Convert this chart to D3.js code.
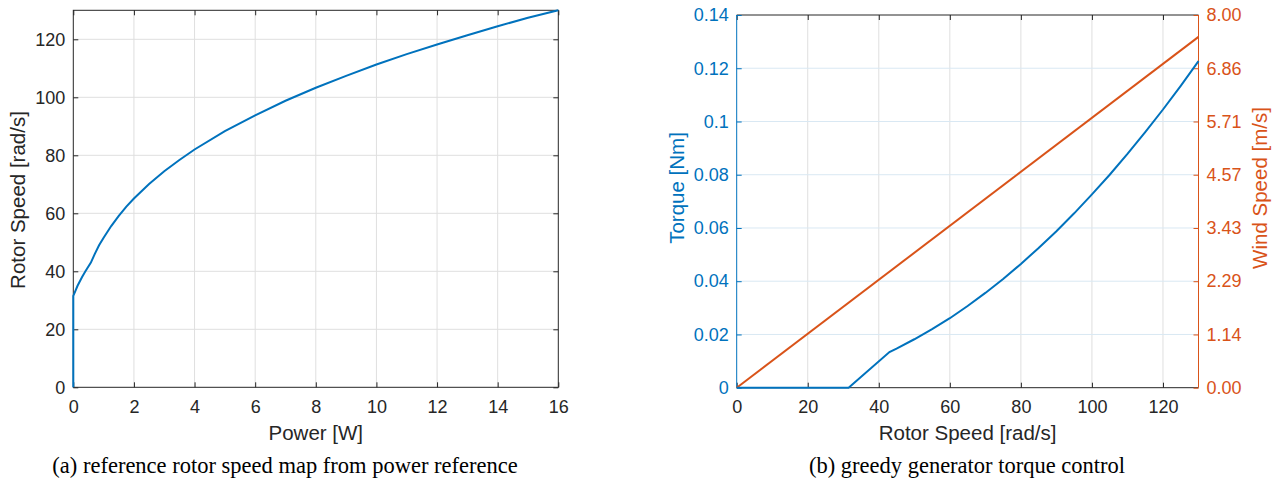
<!DOCTYPE html>
<html>
<head>
<meta charset="utf-8">
<script src="https://cdn.jsdelivr.net/npm/d3@7"></script>
<style>
  body { margin: 0; background: #fff; }
  svg text { font-family: "Liberation Sans", Arial, sans-serif; }
</style>
</head>
<body>
<div id="chart"></div>
<script>
// (a) rotor speed reference vs power
var powerW      = [0, 0, 0.14, 0.29, 0.40, 0.58, 0.71, 0.85, 1, 1.25, 1.5, 1.75, 2, 2.5, 3, 3.5, 4, 5, 6, 7, 8, 9, 10, 11, 12, 13, 14, 15, 16];
var rotorRef    = [0, 31.5, 35, 38, 40, 43, 46, 49, 51.6, 55.6, 59.1, 62.3, 65.1, 70.1, 74.5, 78.4, 82.0, 88.3, 93.8, 98.8, 103.3, 107.4, 111.3, 114.9, 118.2, 121.4, 124.5, 127.4, 130];
var powerTicks  = [0, 2, 4, 6, 8, 10, 12, 14, 16];
var rotorTicksA = [0, 20, 40, 60, 80, 100, 120];

// (b) torque and wind speed vs rotor speed
var rotorB      = [0, 31.5, 43, 45, 50, 55, 60, 65, 70, 75, 80, 85, 90, 95, 100, 105, 110, 115, 120, 125, 130];
var torqueNm    = [0, 0, 0.0134, 0.0147, 0.0182, 0.0220, 0.0261, 0.0307, 0.0356, 0.0408, 0.0465, 0.0525, 0.0588, 0.0655, 0.0726, 0.0800, 0.0878, 0.0960, 0.1045, 0.1134, 0.1227];
var rotorWind   = [0, 130];
var windMs      = [0, 7.53];
var rotorTicksB = [0, 20, 40, 60, 80, 100, 120];
var torqueTicks = [0, 0.02, 0.04, 0.06, 0.08, 0.1, 0.12, 0.14];
var windTicks   = [0, 8/7, 16/7, 24/7, 32/7, 40/7, 48/7, 8];

var blue = "#0072BD", orange = "#D95319", dark = "#262626";
var gridGray = "#dfdfdf", gridBlue = "#d9e8f3";
var W = 1278, H = 487, tickLen = 5;
var tickFont = "18px", labelFont = "20.5px";

var svg = d3.select("#chart").append("svg").attr("width", W).attr("height", H);

function styleAxis(sel, col) {
  sel.select(".domain").remove();
  sel.selectAll("line").style("stroke", col);
  sel.selectAll("text").style("fill", col).style("font-size", tickFont);
}

// ---------- left chart ----------
var xa = d3.scaleLinear().domain([0, 16]).range([73.3, 558.3]);
var ya = d3.scaleLinear().domain([0, 130]).range([387.3, 10.3]);
var ga = svg.append("g");

// grid
ga.selectAll(".vg").data(powerTicks.slice(1, -1)).enter().append("line")
  .attr("x1", d => xa(d)).attr("x2", d => xa(d)).attr("y1", ya(0)).attr("y2", ya(130))
  .style("stroke", gridGray).style("stroke-width", 1);
ga.selectAll(".hg").data(rotorTicksA.slice(1)).enter().append("line")
  .attr("x1", xa(0)).attr("x2", xa(16)).attr("y1", d => ya(d)).attr("y2", d => ya(d))
  .style("stroke", gridGray).style("stroke-width", 1);

// axes, ticks inside, box on
ga.append("g").attr("transform", "translate(0," + ya(0) + ")")
  .call(d3.axisBottom(xa).tickValues(powerTicks).tickSizeInner(-tickLen).tickSizeOuter(0).tickPadding(13).tickFormat(d3.format("d")))
  .call(styleAxis, dark);
ga.append("g").attr("transform", "translate(0," + ya(130) + ")")
  .call(d3.axisTop(xa).tickValues(powerTicks).tickSizeInner(-tickLen).tickSizeOuter(0).tickFormat(""))
  .call(styleAxis, dark);
ga.append("g").attr("transform", "translate(" + xa(0) + ",0)")
  .call(d3.axisLeft(ya).tickValues(rotorTicksA).tickSizeInner(-tickLen).tickSizeOuter(0).tickPadding(8))
  .call(styleAxis, dark);
ga.append("g").attr("transform", "translate(" + xa(16) + ",0)")
  .call(d3.axisRight(ya).tickValues(rotorTicksA).tickSizeInner(-tickLen).tickSizeOuter(0).tickFormat(""))
  .call(styleAxis, dark);
ga.append("rect").attr("x", xa(0)).attr("y", ya(130)).attr("width", xa(16) - xa(0)).attr("height", ya(0) - ya(130))
  .style("fill", "none").style("stroke", dark).style("stroke-width", 1);

ga.append("path").datum(d3.zip(powerW, rotorRef))
  .attr("d", d3.line().x(d => xa(d[0])).y(d => ya(d[1])))
  .style("fill", "none").style("stroke", blue).style("stroke-width", 2);

ga.append("text").attr("x", (xa(0) + xa(16)) / 2).attr("y", 440).attr("text-anchor", "middle")
  .style("font-size", labelFont).style("fill", dark).text("Power [W]");
ga.append("text").attr("transform", "translate(25,200) rotate(-90)")
  .attr("text-anchor", "middle").style("font-size", labelFont).style("fill", dark).text("Rotor Speed [rad/s]");

// ---------- right chart ----------
var xb = d3.scaleLinear().domain([0, 130]).range([736.7, 1198.5]);
var yb = d3.scaleLinear().domain([0, 0.14]).range([387.7, 15]);
var yw = d3.scaleLinear().domain([0, 8]).range([387.7, 15]);
var gb = svg.append("g");

gb.selectAll(".vg").data(rotorTicksB.slice(1)).enter().append("line")
  .attr("x1", d => xb(d)).attr("x2", d => xb(d)).attr("y1", yb(0)).attr("y2", yb(0.14))
  .style("stroke", gridGray).style("stroke-width", 1);
gb.selectAll(".hg").data(torqueTicks.slice(1, -1)).enter().append("line")
  .attr("x1", xb(0)).attr("x2", xb(130)).attr("y1", d => yb(d)).attr("y2", d => yb(d))
  .style("stroke", gridBlue).style("stroke-width", 1);

gb.append("g").attr("transform", "translate(0," + yb(0) + ")")
  .call(d3.axisBottom(xb).tickValues(rotorTicksB).tickSizeInner(-tickLen).tickSizeOuter(0).tickPadding(13))
  .call(styleAxis, dark);
gb.append("g").attr("transform", "translate(0," + yb(0.14) + ")")
  .call(d3.axisTop(xb).tickValues(rotorTicksB).tickSizeInner(-tickLen).tickSizeOuter(0).tickFormat(""))
  .call(styleAxis, dark);
gb.append("line").attr("x1", xb(0)).attr("x2", xb(130)).attr("y1", yb(0)).attr("y2", yb(0)).style("stroke", dark);
gb.append("line").attr("x1", xb(0)).attr("x2", xb(130)).attr("y1", yb(0.14)).attr("y2", yb(0.14)).style("stroke", dark);

gb.append("g").attr("transform", "translate(" + xb(0) + ",0)")
  .call(d3.axisLeft(yb).tickValues(torqueTicks).tickSizeInner(-tickLen).tickSizeOuter(0).tickPadding(8).tickFormat(d => String(+d.toFixed(2))))
  .call(styleAxis, blue);
gb.append("line").attr("x1", xb(0)).attr("x2", xb(0)).attr("y1", yb(0)).attr("y2", yb(0.14)).style("stroke", blue);
gb.append("g").attr("transform", "translate(" + xb(130) + ",0)")
  .call(d3.axisRight(yw).tickValues(windTicks).tickSizeInner(-tickLen).tickSizeOuter(0).tickPadding(8).tickFormat(d3.format(".2f")))
  .call(styleAxis, orange);
gb.append("line").attr("x1", xb(130)).attr("x2", xb(130)).attr("y1", yw(0)).attr("y2", yw(8)).style("stroke", orange);

gb.append("path").datum(d3.zip(rotorWind, windMs))
  .attr("d", d3.line().x(d => xb(d[0])).y(d => yw(d[1])))
  .style("fill", "none").style("stroke", orange).style("stroke-width", 2);
gb.append("path").datum(d3.zip(rotorB, torqueNm))
  .attr("d", d3.line().x(d => xb(d[0])).y(d => yb(d[1])))
  .style("fill", "none").style("stroke", blue).style("stroke-width", 2);

gb.append("text").attr("x", (xb(0) + xb(130)) / 2).attr("y", 440).attr("text-anchor", "middle")
  .style("font-size", labelFont).style("fill", dark).text("Rotor Speed [rad/s]");
gb.append("text").attr("transform", "translate(684,188) rotate(-90)")
  .attr("text-anchor", "middle").style("font-size", labelFont).style("fill", blue).text("Torque [Nm]");
gb.append("text").attr("transform", "translate(1267,188) rotate(-90)")
  .attr("text-anchor", "middle").style("font-size", labelFont).style("fill", orange).text("Wind Speed [m/s]");

// captions
var serif = "'Liberation Serif', 'Times New Roman', serif";
svg.append("text").attr("x", 285).attr("y", 473).attr("text-anchor", "middle")
  .style("font-family", serif).style("font-size", "22.5px").style("fill", "#000")
  .text("(a) reference rotor speed map from power reference");
svg.append("text").attr("x", 967).attr("y", 473).attr("text-anchor", "middle")
  .style("font-family", serif).style("font-size", "22.5px").style("fill", "#000")
  .text("(b) greedy generator torque control");
</script>
</body>
</html>
